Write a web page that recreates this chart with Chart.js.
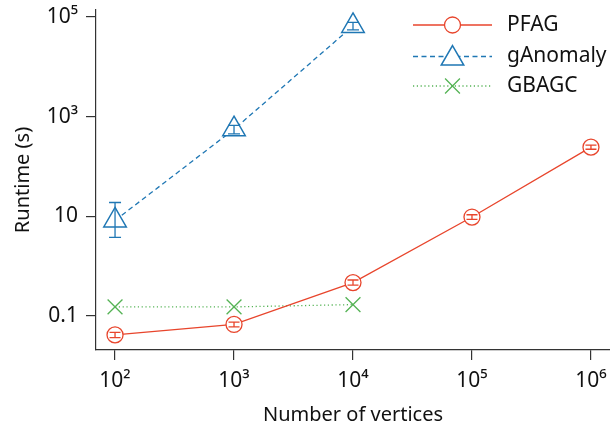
<!DOCTYPE html>
<html><head><meta charset="utf-8">
<script src="https://cdn.jsdelivr.net/npm/chart.js@4/dist/chart.umd.min.js"></script>
<style>html,body{margin:0;padding:0;background:#fff}</style>
</head><body>
<canvas id="c" width="610" height="428"></canvas>
<script>
// ---- data ----
const vertices = [100, 1000, 10000, 100000, 1000000];
const xTickValues = [100, 1000, 10000, 100000, 1000000];
const xTickLabels = ['10²', '10³', '10⁴', '10⁵', '10⁶'];
const yTickValues = [0.1, 10, 1000, 100000];
const yTickLabels = ['0.1', '10', '10³', '10⁵'];
const seriesNames = ['PFAG', 'gAnomaly', 'GBAGC'];

const pfag = [0.042, 0.068, 0.47, 9.7, 245];
const pfagLow = [0.037, 0.061, 0.42, 8.7, 222];
const pfagHigh = [0.047, 0.076, 0.53, 10.8, 270];

const gAnomaly = [8.3, 560, 66000];
const gAnomalyLow = [3.8, 450, 55000];
const gAnomalyHigh = [19, 670, 78000];

const gbagc = [0.153, 0.153, 0.17];

// ---- styles ----
const RED = '#e8452c', BLUE = '#1f77b4', GREEN = '#55b355';
const FONT = '"Noto Sans", "Open Sans", sans-serif';

function pts(vals) { return vals.map((v, i) => ({x: vertices[i], y: v})); }

const errorBars = {
  id: 'errorBars',
  afterDatasetsDraw(chart) {
    const {ctx, scales: {x, y}} = chart;
    chart.data.datasets.forEach(ds => {
      if (!ds.errLow) return;
      ctx.save();
      ctx.strokeStyle = ds.borderColor;
      ctx.lineWidth = 1.3;
      ds.data.forEach((p, j) => {
        const px = x.getPixelForValue(p.x);
        const y1 = y.getPixelForValue(ds.errLow[j]);
        const y2 = y.getPixelForValue(ds.errHigh[j]);
        const cw = ds.capHalf;
        ctx.beginPath();
        ctx.moveTo(px, y1); ctx.lineTo(px, y2);
        ctx.moveTo(px - cw, y1); ctx.lineTo(px + cw, y1);
        ctx.moveTo(px - cw, y2); ctx.lineTo(px + cw, y2);
        ctx.stroke();
      });
      ctx.restore();
    });
  }
};

const customLegend = {
  id: 'customLegend',
  afterDraw(chart) {
    const ctx = chart.ctx;
    const rows = [25, 56.5, 86];
    const x0 = 413, x1 = 492, xm = 452.5, tx = 507;
    chart.data.datasets.forEach((ds, i) => {
      const yy = rows[i];
      ctx.save();
      ctx.strokeStyle = ds.borderColor;
      ctx.lineWidth = ds.borderWidth;
      ctx.setLineDash(ds.borderDash || []);
      ctx.beginPath(); ctx.moveTo(x0, yy); ctx.lineTo(x1, yy); ctx.stroke();
      ctx.setLineDash([]);
      ctx.lineWidth = ds.pointBorderWidth;
      ctx.fillStyle = '#fff';
      const r = ds.pointRadius;
      ctx.beginPath();
      if (ds.pointStyle === 'circle') {
        ctx.arc(xm, yy, r, 0, Math.PI * 2);
        ctx.fill(); ctx.stroke();
      } else if (ds.pointStyle === 'triangle') {
        const cy = yy + 2;
        let a = 0;
        ctx.moveTo(xm + Math.sin(a) * r, cy - Math.cos(a) * r);
        a += 2 * Math.PI / 3;
        ctx.lineTo(xm + Math.sin(a) * r, cy - Math.cos(a) * r);
        a += 2 * Math.PI / 3;
        ctx.lineTo(xm + Math.sin(a) * r, cy - Math.cos(a) * r);
        ctx.closePath();
        ctx.fill(); ctx.stroke();
      } else {
        const o = Math.cos(Math.PI / 4) * r;
        ctx.moveTo(xm - o, yy - o); ctx.lineTo(xm + o, yy + o);
        ctx.moveTo(xm - o, yy + o); ctx.lineTo(xm + o, yy - o);
        ctx.stroke();
      }
      ctx.fillStyle = '#111';
      ctx.font = '21px ' + FONT;
      ctx.textBaseline = 'middle';
      ctx.textAlign = 'left';
      ctx.fillText(ds.label, tx, yy);
      ctx.restore();
    });
  }
};

const axisCommon = {
  grid: {drawOnChartArea: false, drawTicks: true, tickLength: 10, color: '#333', lineWidth: 1.2},
  border: {display: true, color: '#333', width: 1.2},
};

function noPad(s) { s.paddingLeft = 0; s.paddingRight = 0; s.paddingTop = 0; s.paddingBottom = 0; }

new Chart(document.getElementById('c'), {
  type: 'line',
  data: {
    datasets: [
      {
        label: seriesNames[0], data: pts(pfag), errLow: pfagLow, errHigh: pfagHigh, capHalf: 5.5,
        borderColor: RED, borderWidth: 1.3, pointStyle: 'circle', pointRadius: 8,
        pointBorderWidth: 1.3, pointBackgroundColor: '#fff', pointBorderColor: RED, tension: 0
      },
      {
        label: seriesNames[1], data: pts(gAnomaly), errLow: gAnomalyLow, errHigh: gAnomalyHigh, capHalf: 6,
        borderColor: BLUE, borderWidth: 1.3, borderDash: [5, 3.5], pointStyle: 'triangle', pointRadius: 13,
        pointBorderWidth: 1.5, pointBackgroundColor: '#fff', pointBorderColor: BLUE, tension: 0
      },
      {
        label: seriesNames[2], data: pts(gbagc),
        borderColor: GREEN, borderWidth: 1.3, borderDash: [1.2, 2.6], pointStyle: 'crossRot', pointRadius: 10.5,
        pointBorderWidth: 1.3, pointBackgroundColor: '#fff', pointBorderColor: GREEN, tension: 0
      }
    ]
  },
  options: {
    responsive: false, animation: false, devicePixelRatio: 1,
    layout: {autoPadding: false, padding: {top: 10, right: 0, left: 0, bottom: 0}},
    plugins: {legend: {display: false}, tooltip: {enabled: false}},
    scales: {
      x: {
        ...axisCommon,
        type: 'logarithmic', position: 'bottom',
        min: Math.pow(10, 1.84), max: Math.pow(10, 6.16),
        afterBuildTicks: s => { s.ticks = xTickValues.map(v => ({value: v})); },
        afterFit: s => { s.height = 78; noPad(s); },
        ticks: {
          autoSkip: false, maxRotation: 0, padding: 8, color: '#111',
          font: {family: FONT, size: 21},
          callback: v => xTickLabels[xTickValues.indexOf(v)]
        },
        title: {display: true, text: 'Number of vertices', color: '#111',
          font: {family: FONT, size: 20}, padding: {top: 0, bottom: 1}}
      },
      y: {
        ...axisCommon,
        type: 'logarithmic', position: 'left',
        min: Math.pow(10, -1.68), max: Math.pow(10, 5.14),
        afterBuildTicks: s => { s.ticks = yTickValues.map(v => ({value: v})); },
        afterFit: s => { s.width = 96; noPad(s); },
        ticks: {
          autoSkip: false, padding: 8, color: '#111',
          font: {family: FONT, size: 21},
          callback: v => yTickLabels[yTickValues.indexOf(v)]
        },
        title: {display: true, text: 'Runtime (s)', color: '#111',
          font: {family: FONT, size: 20}, padding: {top: 11, bottom: 0}}
      }
    }
  },
  plugins: [errorBars, customLegend]
});
</script>
</body></html>
